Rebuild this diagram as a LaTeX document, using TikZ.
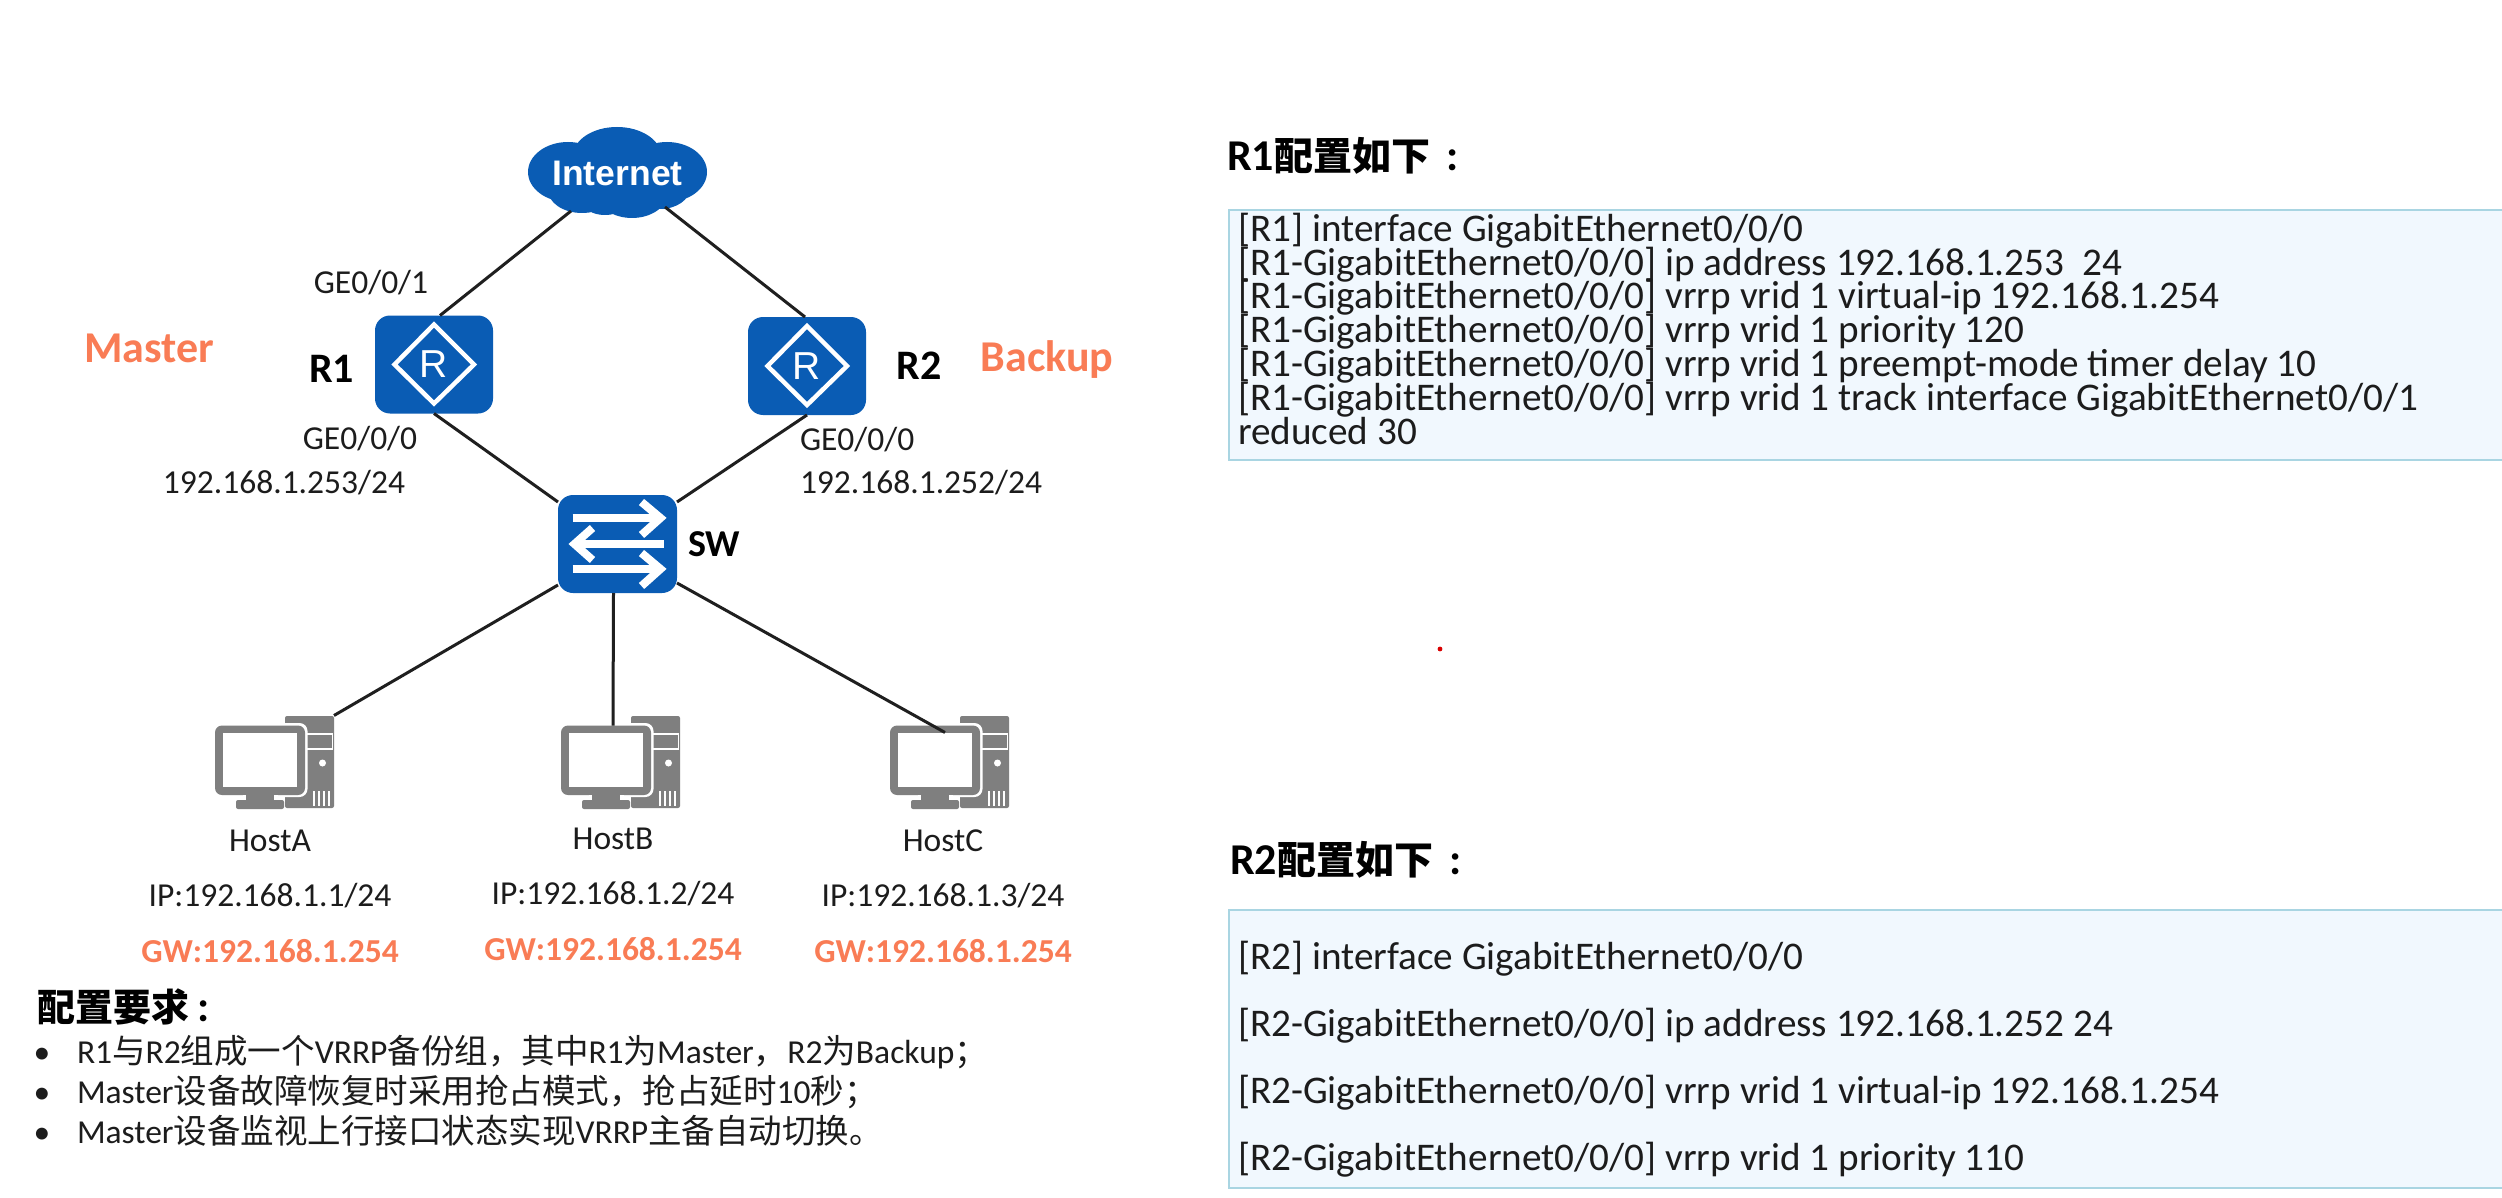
\documentclass[tikz,border=0pt]{standalone}
\usepackage{fontspec}
\setmainfont{Carlito}
\newfontfamily\cjk{Noto Sans CJK SC}
\newfontfamily\arialf{Liberation Sans}
\definecolor{hwblue}{HTML}{0A5CB4}
\definecolor{hostgrey}{HTML}{7F7F7F}
\definecolor{orangelab}{HTML}{F97C55}
\definecolor{boxfill}{HTML}{F1F8FE}
\definecolor{boxline}{HTML}{A9D5E2}
\definecolor{inktext}{HTML}{1C1C1C}
\newcommand{\tightlines}{\lineskiplimit -50pt\relax}
\tikzset{
  x=1pt,y=-1pt,
  txt/.style={inner sep=0pt,outer sep=0pt,text=inktext,text height=28pt,text depth=6.6pt,font=\fontsize{33.5}{33.5}\selectfont},
  txtb/.style={txt,text=black,text height=32pt,text depth=7.6pt,font=\fontsize{38}{38}\selectfont\bfseries},
  rname/.style={txtb,text height=35pt,text depth=8.4pt,font=\fontsize{42}{42}\selectfont\bfseries},
  gw/.style={txt,text=orangelab,font=\fontsize{33.5}{33.5}\selectfont\bfseries},
  role/.style={txt,text=orangelab,text height=37pt,text depth=8.8pt,font=\fontsize{44}{44}\selectfont\bfseries},
  head/.style={txt,text=black,text height=37pt,text depth=8.8pt,font=\fontsize{44}{44}\selectfont\bfseries},
  cfgtext/.style={inner sep=0pt,outer sep=0pt,text=inktext,align=left,anchor=north west},
  cfgbox/.style={draw=boxline,line width=2pt,fill=boxfill,inner sep=0pt,outer sep=0pt,anchor=north west},
  dev/.style={fill=hwblue,rounded corners=15pt,inner sep=0pt,outer sep=0pt,minimum width=118pt,minimum height=98pt},
  iconline/.style={draw=white,line width=4.5pt,miter limit=10},
  arrowline/.style={draw=white,line width=8pt,miter limit=10},
  link/.style={draw=black!88,line width=3pt},
  hostbox/.style={inner sep=0pt,outer sep=0pt,minimum width=119pt,minimum height=93pt},
  pics/hosticon/.style={code={
    \fill[hostgrey,rounded corners=2pt] (10.5,-46) rectangle (59.5,46);
    \fill[white] (48,1) circle (3.5);
    \foreach \vx in {38,43,48,53}{\fill[white] (\vx,29) rectangle (\vx+2,44);}
    \draw[white,line width=1.6pt] (30,-28) rectangle (58,-13);
    \fill[white,rounded corners=8pt] (-62,-39) rectangle (33,35);
    \fill[hostgrey,rounded corners=7pt] (-59.5,-36.5) rectangle (30.5,33);
    \fill[white] (-51.5,-29) rectangle (22.5,25);
    \fill[white] (-32,33) rectangle (3,48);
    \fill[hostgrey] (-28.5,33) rectangle (-0.5,40);
    \fill[hostgrey,rounded corners=2pt] (-38.5,38) rectangle (9.5,47);
  }}
}
\begin{document}
\begin{tikzpicture}
\useasboundingbox (0,0) rectangle (2502,1198);
\fill[white] (0,0) rectangle (2502,1198);

% Cloud
\fill[hwblue] (617,156) ellipse [x radius=44,y radius=29]
  (568,172) ellipse [x radius=40,y radius=30]
  (667,172) ellipse [x radius=40,y radius=30]
  (582,190) ellipse [x radius=34,y radius=23]
  (632,192) ellipse [x radius=36,y radius=26]
  (660,188) ellipse [x radius=30,y radius=21]
  (605,190) ellipse [x radius=30,y radius=25];
\node[inner sep=0pt,outer sep=0pt,text=white,font=\arialf\fontsize{35.5}{35.5}\selectfont\bfseries,text height=25.5pt,text depth=0pt] (internet) at (617.5,173) {Internet};
\coordinate (inetl) at (571,211);
\coordinate (inetr) at (665,207);

% Routers
\node[dev] (r1) at (434,364.5) {};
\node[dev] (r2) at (807,366) {};
\foreach \rn in {r1,r2}{
  \draw[iconline] ([xshift=0pt,yshift=40pt]\rn.center) -- ([xshift=40pt]\rn.center) -- ([yshift=-39pt]\rn.center) -- ([xshift=-39.5pt]\rn.center) -- cycle;
}
\node[inner sep=0pt,text=white,font=\arialf\fontsize{39}{39}\selectfont] (r1glyph) at (r1.center) {R};
\node[inner sep=0pt,text=white,font=\arialf\fontsize{39}{39}\selectfont] (r2glyph) at (r2.center) {R};

% Switch
\node[dev,minimum width=119pt,minimum height=98pt] (sw) at (617.5,544) {};
\draw[arrowline] ([xshift=-45pt,yshift=26pt]sw.center) -- ([xshift=40pt,yshift=26pt]sw.center);
\draw[arrowline] ([xshift=24pt,yshift=42pt]sw.center) -- ([xshift=43pt,yshift=26pt]sw.center) -- ([xshift=24pt,yshift=9pt]sw.center);
\draw[arrowline] ([xshift=46pt]sw.center) -- ([xshift=-40pt]sw.center);
\draw[arrowline] ([xshift=-25pt,yshift=16pt]sw.center) -- ([xshift=-43pt]sw.center) -- ([xshift=-25pt,yshift=-16pt]sw.center);
\draw[arrowline] ([xshift=-45pt,yshift=-25pt]sw.center) -- ([xshift=40pt,yshift=-25pt]sw.center);
\draw[arrowline] ([xshift=24pt,yshift=-9pt]sw.center) -- ([xshift=43pt,yshift=-25pt]sw.center) -- ([xshift=24pt,yshift=-42pt]sw.center);

% Hosts
\node[hostbox] (ha) at (274.5,762) {};
\node[hostbox] (hb) at (620.5,762) {};
\node[hostbox] (hc) at (949.5,762) {};
\pic at (ha.center) {hosticon};
\pic at (hb.center) {hosticon};
\pic at (hc.center) {hosticon};

% Links
\draw[link] (inetl) -- ([xshift=6pt]r1.north);
\draw[link] (inetr) -- ([xshift=-2pt]r2.north);
\draw[link] (r1.south) -- ([yshift=-7pt]sw.north west);
\draw[link] (r2.south) -- ([yshift=-7pt]sw.north east);
\draw[link] ([yshift=8pt]sw.south west) -- (ha.north east);
\draw[link] ([xshift=-4pt]sw.south) -- ([xshift=-7.5pt,yshift=-10pt]hb.north);
\draw[link] ([yshift=10pt]sw.south east) -- ([xshift=-4.5pt,yshift=-17pt]hc.north);

% Device labels
\node[rname] (r1t) at (331.5,369) {R1};
\node[rname] (r2t) at (919,366) {R2};
\node[txtb,anchor=west] (swt) at (688,544) {SW};
\node[role] (master) at (149,348) {Master};
\node[role] (backup) at (1047,357) {Backup};
\node[txt] (ge1) at (371,283) {GE0/0/1};
\node[txt] (ge0a) at (360,439) {GE0/0/0};
\node[txt] (ipa) at (284,483) {192.168.1.253/24};
\node[txt,anchor=west] (ge0b) at (800,440) {GE0/0/0};
\node[txt,anchor=west] (ipb) at (800,483) {192.168.1.252/24};

% Host labels
\node[txt] (hat) at (270,841) {HostA};
\node[txt] (hbt) at (613,839) {HostB};
\node[txt] (hct) at (943,841) {HostC};
\node[txt] (haip) at (270,896) {IP:192.168.1.1/24};
\node[txt] (hbip) at (613,894) {IP:192.168.1.2/24};
\node[txt] (hcip) at (943,896) {IP:192.168.1.3/24};
\node[gw] (hagw) at (270,952) {GW:192.168.1.254};
\node[gw] (hbgw) at (613,950) {GW:192.168.1.254};
\node[gw] (hcgw) at (943,952) {GW:192.168.1.254};

% Requirements
\node[head,anchor=west] (req) at (37,1007) {{\cjk\bfseries\fontsize{38}{38}\selectfont 配置要求}\hspace{8pt}:};
\node[txt] (b1) at (42,1053) {•};
\node[txt] (b2) at (42,1093) {•};
\node[txt] (b3) at (42,1133) {•};
\node[txt,anchor=west] (l1) at (77,1053) {R1{\cjk 与}R2{\cjk 组成一个}VRRP{\cjk 备份组，其中}R1{\cjk 为}Master{\cjk ，}R2{\cjk 为}Backup{\cjk ；}};
\node[txt,anchor=west] (l2) at (77,1093) {Master{\cjk 设备故障恢复时采用抢占模式，抢占延时}10{\cjk 秒；}};
\node[txt,anchor=west] (l3) at (77,1133) {Master{\cjk 设备监视上行接口状态实现}VRRP{\cjk 主备自动切换。}};

% R1 config
\node[head,anchor=west] (r1head) at (1227,156) {R1{\cjk\bfseries\fontsize{39}{39}\selectfont 配置如下}\hspace{16pt}:};
\node[cfgbox,minimum width=1290pt,minimum height=250pt] (r1box) at (1229,210) {};
\node[cfgtext,font=\fontsize{39.2}{33.8}\selectfont\tightlines] (r1cfg) at (1238,213) {{[}R1] interface GigabitEthernet0/0/0\\
{[}R1-GigabitEthernet0/0/0] ip address 192.168.1.253\ \ 24\\
{[}R1-GigabitEthernet0/0/0] vrrp vrid 1 virtual-ip 192.168.1.254\\
{[}R1-GigabitEthernet0/0/0] vrrp vrid 1 priority 120\\
{[}R1-GigabitEthernet0/0/0] vrrp vrid 1 preempt-mode timer delay 10\\
{[}R1-GigabitEthernet0/0/0] vrrp vrid 1 track interface GigabitEthernet0/0/1\\
reduced 30};

% R2 config
\node[head,anchor=west] (r2head) at (1230,860) {R2{\cjk\bfseries\fontsize{39}{39}\selectfont 配置如下}\hspace{16pt}:};
\node[cfgbox,minimum width=1290pt,minimum height=278pt] (r2box) at (1229,910) {};
\node[cfgtext,font=\fontsize{39.2}{67.2}\selectfont] (r2cfg) at (1238,941) {{[}R2] interface GigabitEthernet0/0/0\\
{[}R2-GigabitEthernet0/0/0] ip address 192.168.1.252 24\\
{[}R2-GigabitEthernet0/0/0] vrrp vrid 1 virtual-ip 192.168.1.254\\
{[}R2-GigabitEthernet0/0/0] vrrp vrid 1 priority 110};

% Pointer dot
\fill[red!85!black] (1440,649) circle (2.4);
\end{tikzpicture}
\end{document}
